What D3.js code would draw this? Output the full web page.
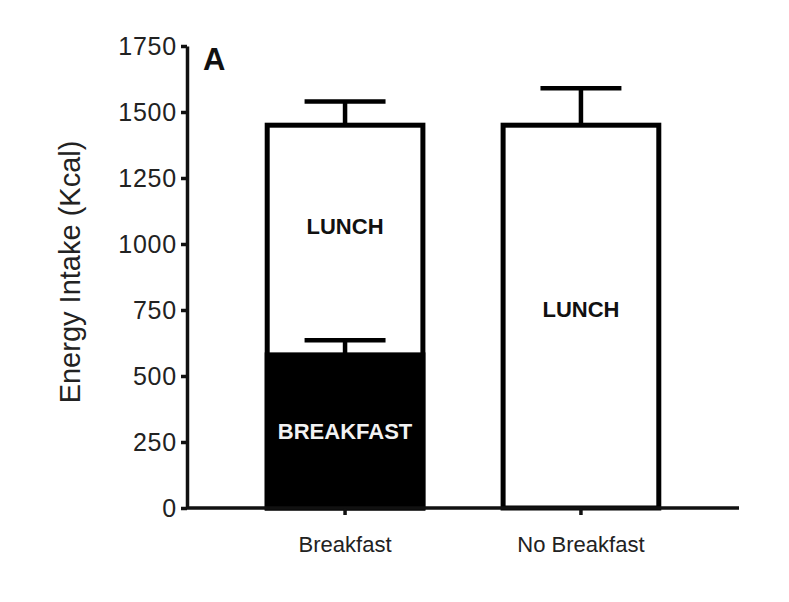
<!DOCTYPE html>
<html lang="en">
<head>
    <meta charset="UTF-8">
    <title>energy intake</title>
    <script src="https://cdn.jsdelivr.net/npm/d3@7"></script>
    <style>
        body { margin: 0; background: #fff; }
        text { font-family: "Liberation Sans", Arial, sans-serif; }
        g.axis path, g.axis line { stroke: #111; stroke-width: 3.5px; }
        g.axis text { fill: #222; }
        rect.bar { stroke: #000; stroke-width: 5px; }
        path.err { stroke: #000; stroke-width: 4.5px; fill: none; }
    </style>
</head>
<body>

<svg width="789" height="602"></svg>

<script>
    // data
    let categories = ['Breakfast', 'No Breakfast']
    let breakfastKcal = [580, 0]
    let lunchKcal = [870, 1450]
    let breakfastSem = [55, 0]
    let totalSem = [90, 140]
    let yTicks = [0, 250, 500, 750, 1000, 1250, 1500, 1750]

    let svg = d3.select('svg')

    let xScale = d3.scaleBand().domain(categories).range([187, 739]).padding(0.34)
    let yScale = d3.scaleLinear().domain([0, 1750]).range([508, 46])

    let bw = xScale.bandwidth()
    let capHalf = bw * 0.26

    let fig = svg.append('g')

    // total bar (lunch on top of breakfast) - white with black outline
    fig.selectAll('rect.total').data(categories).enter().append('rect')
        .attr('class', 'bar total')
        .attr('x', function (d) { return xScale(d) })
        .attr('width', bw)
        .attr('y', function (d, i) { return yScale(breakfastKcal[i] + lunchKcal[i]) })
        .attr('height', function (d, i) { return yScale(0) - yScale(breakfastKcal[i] + lunchKcal[i]) })
        .attr('fill', '#fff')

    // breakfast part - solid black
    fig.selectAll('rect.bk').data(categories.filter(function (d, i) { return breakfastKcal[i] > 0 }))
        .enter().append('rect')
        .attr('class', 'bar bk')
        .attr('x', function (d) { return xScale(d) })
        .attr('width', bw)
        .attr('y', function (d) { return yScale(breakfastKcal[categories.indexOf(d)]) })
        .attr('height', function (d) { return yScale(0) - yScale(breakfastKcal[categories.indexOf(d)]) })
        .attr('fill', '#000')

    // error bars (upper only)
    function errPath(cx, top, val) {
        return 'M' + cx + ',' + yScale(top) + 'V' + yScale(top + val) +
            'M' + (cx - capHalf) + ',' + yScale(top + val) + 'H' + (cx + capHalf)
    }
    categories.forEach(function (d, i) {
        let cx = xScale(d) + bw / 2
        fig.append('path').attr('class', 'err')
            .attr('d', errPath(cx, breakfastKcal[i] + lunchKcal[i], totalSem[i]))
        if (breakfastKcal[i] > 0) {
            fig.append('path').attr('class', 'err')
                .attr('d', errPath(cx, breakfastKcal[i], breakfastSem[i]))
        }
    })

    // labels inside bars
    categories.forEach(function (d, i) {
        let cx = xScale(d) + bw / 2
        let lunchMid = breakfastKcal[i] + lunchKcal[i] * (breakfastKcal[i] > 0 ? 0.56 : 0.52)
        fig.append('text').text('LUNCH')
            .attr('x', cx).attr('y', yScale(lunchMid)).attr('dy', '0.36em')
            .attr('text-anchor', 'middle')
            .style('font-size', '22px').style('font-weight', 'bold').attr('fill', '#111')
        if (breakfastKcal[i] > 0) {
            fig.append('text').text('BREAKFAST')
                .attr('x', cx).attr('y', yScale(breakfastKcal[i] * 0.5)).attr('dy', '0.33em')
                .attr('text-anchor', 'middle')
                .style('font-size', '22px').style('font-weight', 'bold').attr('fill', '#f2f2f2')
        }
    })

    // axes
    let yAxis = svg.append('g').attr('class', 'axis')
        .attr('transform', 'translate(187,0)')
        .call(d3.axisLeft(yScale).tickValues(yTicks).tickFormat(d3.format('d'))
            .tickSize(6).tickSizeOuter(0).tickPadding(4))
    yAxis.selectAll('text').style('font-size', '25px').style('letter-spacing', '0.8px')

    let xAxis = svg.append('g').attr('class', 'axis')
        .attr('transform', 'translate(0,508)')
        .call(d3.axisBottom(xScale).tickSize(7).tickSizeOuter(0).tickPadding(21))
    xAxis.selectAll('text').style('font-size', '22px')
    xAxis.select('path.domain').attr('d', 'M187,0H739')

    // y title
    svg.append('text').text('Energy Intake (Kcal)')
        .attr('transform', 'translate(80,272) rotate(-90)')
        .attr('text-anchor', 'middle')
        .style('font-size', '29px').attr('fill', '#222')

    // panel letter
    svg.append('text').text('A')
        .attr('x', 203).attr('y', 70)
        .style('font-size', '31px').style('font-weight', 'bold').attr('fill', '#111')
</script>

</body>
</html>
